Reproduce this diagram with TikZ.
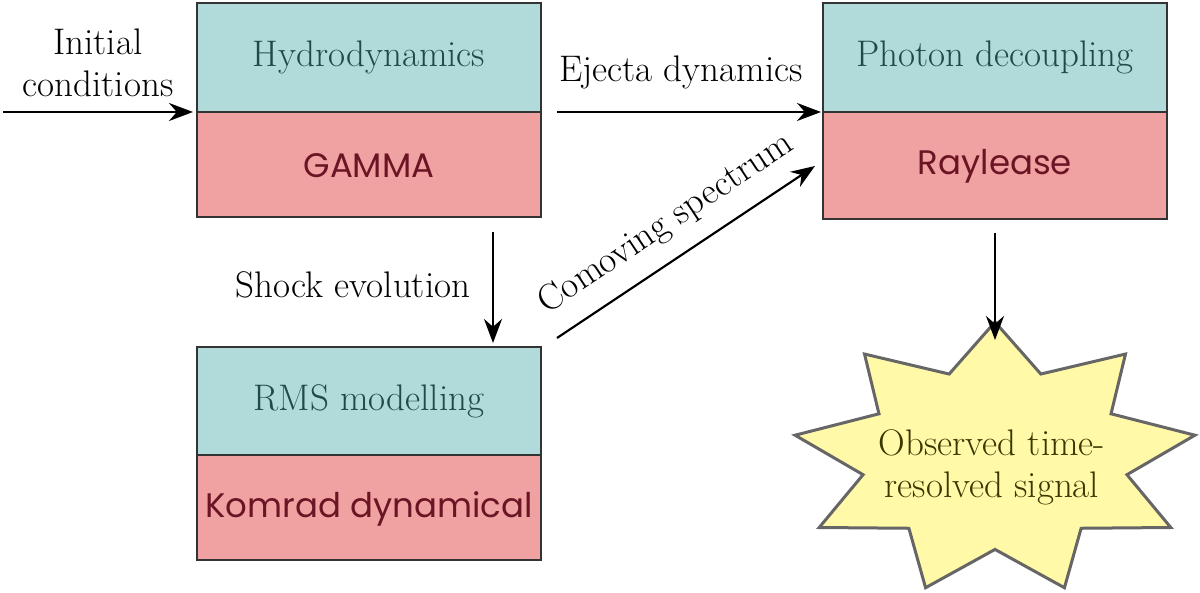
\documentclass[tikz,border=0pt]{standalone}
\usepackage{fontspec}
\newfontfamily\geo{Poppins}
\usetikzlibrary{arrows.meta}
\definecolor{tealbg}{HTML}{B1DBDA}
\definecolor{redbg}{HTML}{F0A1A2}
\definecolor{tealtx}{HTML}{1F4A48}
\definecolor{redtx}{HTML}{6A1424}
\definecolor{staryel}{HTML}{FFF9A8}
\definecolor{startx}{HTML}{3A3800}
\begin{document}
\begin{tikzpicture}[x=0.5pt,y=-0.5pt,
  top/.style={fill=tealbg,draw=black!80,line width=1pt},
  bot/.style={fill=redbg,draw=black!80,line width=1pt},
  ttx/.style={text=tealtx,font=\fontsize{18.5}{22}\selectfont},
  btx/.style={text=redtx,font=\geo\fontsize{17}{20}\selectfont},
  lab/.style={font=\fontsize{18.5}{21}\selectfont,align=center},
  arr/.style={-{Stealth[length=12pt,width=9pt]},line width=1.1pt}]
\useasboundingbox (0,0) rectangle (1200,593);
% box 1
\path[top] (197,3) rectangle (541,112);
\path[bot] (197,112) rectangle (541,217);
\node[ttx] (h) at (369,57) {Hydrodynamics};
\node[btx] (g) at (369,166) {GAMMA};
% box 2
\path[top] (823,3) rectangle (1167,112);
\path[bot] (823,112) rectangle (1167,219);
\node[ttx] (p) at (995,57) {Photon decoupling};
\node[btx] (r) at (995,166) {Raylease};
% box 3
\path[top] (197,347) rectangle (541,455);
\path[bot] (197,455) rectangle (541,560);
\node[ttx] (rms) at (369,401) {RMS modelling};
\node[btx] (k) at (369,509) {Komrad dynamical};
% star (9 points)
\draw[fill=staryel,draw=black!60,line width=1.5pt]
  plot[samples at={0,...,17}] ({995+203*(1-0.34*mod(\x,2))*cos(90-20*\x)},{459-137*(1-0.34*mod(\x,2))*sin(90-20*\x)}) -- cycle;
\node[lab,text=startx] (st) at (992,467) {Observed time-\\resolved signal};
% arrows
\coordinate (in) at (3,112);
\coordinate (a1) at (193,112);
\draw[arr] (in) -- (a1);
\node[lab] (ic) at (98,63) {Initial\\conditions};
\coordinate (e1) at (557,112); \coordinate (e2) at (821,112);
\draw[arr] (e1) -- (e2);
\node[lab] (el) at (681,72) {Ejecta dynamics};
\coordinate (c1) at (557,338); \coordinate (c2) at (815,166);
\draw[arr] (c1) -- (c2);
\node[lab,rotate=33.7] (cl) at (666,224) {Comoving spectrum};
\coordinate (s1) at (493,232); \coordinate (s2) at (493,343);
\draw[arr] (s1) -- (s2);
\node[lab] (sl) at (353,285) {Shock evolution};
\coordinate (o1) at (995,233); \coordinate (o2) at (995,340);
\draw[arr] (o1) -- (o2);
\end{tikzpicture}
\end{document}
